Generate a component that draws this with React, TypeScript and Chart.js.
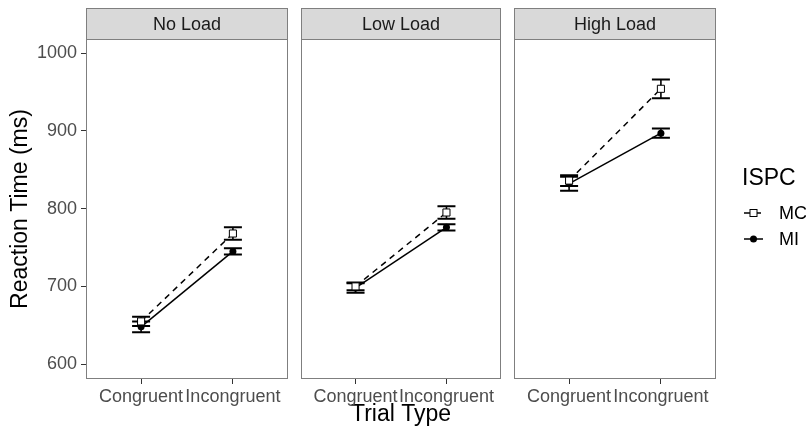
import React, { useEffect, useRef } from "react";
import { Chart, registerables } from "chart.js";

Chart.register(...registerables);

// ---- data ----
const trialTypes = ["Congruent", "Incongruent"];
const loadLevels = ["No Load", "Low Load", "High Load"];
const yTickValues = [600, 700, 800, 900, 1000];
const seriesNames = ["MC", "MI"];

// mean reaction time per load level: [Congruent, Incongruent]
const mcNoLoad = [655, 768];
const mcLowLoad = [700, 795];
const mcHighLoad = [836, 954];
const miNoLoad = [648, 745];
const miLowLoad = [698, 776];
const miHighLoad = [832, 897];

// standard errors, same layout
const mcErrNoLoad = [6, 8];
const mcErrLowLoad = [5, 8];
const mcErrHighLoad = [7, 12];
const miErrNoLoad = [7, 4];
const miErrLowLoad = [6, 4];
const miErrHighLoad = [9, 6];

const mcMeans = [mcNoLoad, mcLowLoad, mcHighLoad];
const miMeans = [miNoLoad, miLowLoad, miHighLoad];
const mcErrs = [mcErrNoLoad, mcErrLowLoad, mcErrHighLoad];
const miErrs = [miErrNoLoad, miErrLowLoad, miErrHighLoad];

// ---- layout ----
const W = 806;
const H = 429;
const FONT = "'Liberation Sans', Arial, Helvetica, sans-serif";
const panelLeft = [86, 299, 512];
const panelRight = [290, 503, 716];
const panelTop = 39;
const panelBottom = 379;
const stripHeight = 31;
const Y_MIN = 581;
const Y_MAX = 1018;

const errorBarPlugin = {
  id: "errorBars",
  beforeDatasetsDraw(chart: any) {
    const { ctx } = chart;
    const x = chart.scales.x;
    const y = chart.scales.y;
    ctx.save();
    ctx.strokeStyle = "#000000";
    chart.data.datasets.forEach((ds: any) => {
      ds.data.forEach((p: any, i: number) => {
        const e = ds.errors[i];
        const px = x.getPixelForValue(p.x);
        const yt = y.getPixelForValue(p.y + e);
        const yb = y.getPixelForValue(p.y - e);
        ctx.lineWidth = 1.6;
        ctx.beginPath();
        ctx.moveTo(px, yt);
        ctx.lineTo(px, yb);
        ctx.stroke();
        ctx.lineWidth = 2;
        ctx.beginPath();
        ctx.moveTo(px - 9, yt);
        ctx.lineTo(px + 9, yt);
        ctx.moveTo(px - 9, yb);
        ctx.lineTo(px + 9, yb);
        ctx.stroke();
      });
    });
    ctx.restore();
  },
};

const panelPlugin = {
  id: "panelFrame",
  afterDraw(chart: any, _args: any, opts: any) {
    const { ctx, chartArea } = chart;
    const l = Math.round(chartArea.left) + 0.5;
    const r = Math.round(chartArea.right) - 0.5;
    const t = Math.round(chartArea.top) + 0.5;
    const b = Math.round(chartArea.bottom) - 0.5;
    ctx.save();
    // strip
    ctx.fillStyle = "#d9d9d9";
    ctx.fillRect(l, t - stripHeight, r - l, stripHeight);
    ctx.strokeStyle = "#7f7f7f";
    ctx.lineWidth = 1;
    ctx.strokeRect(l, t - stripHeight, r - l, stripHeight);
    ctx.fillStyle = "#1a1a1a";
    ctx.font = `18px ${FONT}`;
    ctx.textAlign = "center";
    ctx.textBaseline = "middle";
    ctx.fillText(opts.label, (l + r) / 2, t - stripHeight / 2 + 1);
    // panel border
    ctx.strokeRect(l, t, r - l, b - t);
    ctx.restore();
  },
};

const legendPlugin = {
  id: "ispcLegend",
  afterDraw(chart: any, _args: any, opts: any) {
    if (!opts.show) return;
    const { ctx, chartArea } = chart;
    const x0 = chartArea.right + 26;
    ctx.save();
    ctx.fillStyle = "#000000";
    ctx.textBaseline = "middle";
    ctx.textAlign = "left";
    ctx.font = `23px ${FONT}`;
    ctx.fillText("ISPC", x0, 179);
    ctx.font = `18px ${FONT}`;
    const rows = [213, 239];
    seriesNames.forEach((name, i) => {
      const yy = rows[i];
      ctx.strokeStyle = "#000000";
      ctx.lineWidth = 1.5;
      ctx.setLineDash(i === 0 ? [6, 5] : []);
      ctx.beginPath();
      ctx.moveTo(x0 + 2, yy);
      ctx.lineTo(x0 + 21, yy);
      ctx.stroke();
      ctx.setLineDash([]);
      const cx = x0 + 11.5;
      if (i === 0) {
        ctx.fillStyle = "#ffffff";
        ctx.fillRect(cx - 3.5, yy - 3.5, 7, 7);
        ctx.lineWidth = 1;
        ctx.strokeRect(cx - 3.5, yy - 3.5, 7, 7);
      } else {
        ctx.fillStyle = "#000000";
        ctx.beginPath();
        ctx.arc(cx, yy, 3.5, 0, Math.PI * 2);
        ctx.fill();
      }
      ctx.fillStyle = "#000000";
      ctx.fillText(name, x0 + 37, yy + 1);
    });
    ctx.restore();
  },
};

function makeConfig(i: number): any {
  const first = i === 0;
  return {
    type: "line",
    data: {
      datasets: [
        {
          label: seriesNames[0],
          data: mcMeans[i].map((v, k) => ({ x: k, y: v })),
          errors: mcErrs[i],
          borderColor: "#000000",
          borderWidth: 1.5,
          borderDash: [6, 5],
          pointStyle: "rect",
          pointRadius: 5,
          pointBackgroundColor: "#ffffff",
          pointBorderColor: "#000000",
          pointBorderWidth: 1,
          fill: false,
          tension: 0,
        },
        {
          label: seriesNames[1],
          data: miMeans[i].map((v, k) => ({ x: k, y: v })),
          errors: miErrs[i],
          borderColor: "#000000",
          borderWidth: 1.5,
          pointStyle: "circle",
          pointRadius: 3.5,
          pointBackgroundColor: "#000000",
          pointBorderColor: "#000000",
          pointBorderWidth: 0,
          fill: false,
          tension: 0,
        },
      ],
    },
    options: {
      animation: false,
      responsive: false,
      devicePixelRatio: 1,
      layout: {
        padding: {
          top: panelTop,
          bottom: 0,
          left: first ? 0 : 4,
          right: i === 2 ? W - panelRight[2] : 4,
        },
      },
      plugins: {
        legend: { display: false },
        tooltip: { enabled: false },
        panelFrame: { label: loadLevels[i] },
        ispcLegend: { show: i === 2 },
      },
      scales: {
        x: {
          type: "linear",
          min: -0.6,
          max: 1.6,
          afterBuildTicks: (s: any) => {
            s.ticks = trialTypes.map((_, k) => ({ value: k }));
          },
          afterFit: (s: any) => {
            s.height = H - panelBottom;
          },
          ticks: {
            autoSkip: false,
            maxRotation: 0,
            minRotation: 0,
            padding: 2,
            color: "#4d4d4d",
            font: { family: FONT, size: 18 },
            callback: (_v: any, k: number) => trialTypes[k],
          },
          grid: {
            drawOnChartArea: false,
            drawTicks: true,
            tickLength: 5,
            color: "#333333",
          },
          border: { display: false },
          title: {
            display: i === 1,
            text: "Trial Type",
            color: "#000000",
            font: { family: FONT, size: 23, lineHeight: 1.2 },
            padding: { top: 0, bottom: 1 },
          },
        },
        y: {
          type: "linear",
          display: first,
          min: Y_MIN,
          max: Y_MAX,
          afterBuildTicks: (s: any) => {
            s.ticks = yTickValues.map((v) => ({ value: v }));
          },
          afterFit: (s: any) => {
            if (first) s.width = panelLeft[0];
          },
          ticks: {
            padding: 4,
            color: "#4d4d4d",
            font: { family: FONT, size: 18 },
            callback: (v: any) => String(v),
          },
          grid: {
            drawOnChartArea: false,
            drawTicks: true,
            tickLength: 5,
            color: "#333333",
          },
          border: { display: false },
          title: {
            display: first,
            text: "Reaction Time (ms)",
            color: "#000000",
            font: { family: FONT, size: 23, lineHeight: 1.2 },
            padding: { top: 7, bottom: 0 },
          },
        },
      },
    },
    plugins: [errorBarPlugin, panelPlugin, legendPlugin],
  };
}

function Panel({ index }: { index: number }) {
  const ref = useRef<HTMLCanvasElement | null>(null);
  const left = index === 0 ? 0 : panelLeft[index] - 4;
  const right = index === 2 ? W : panelRight[index] + 4;
  const width = right - left;
  useEffect(() => {
    if (!ref.current) return;
    const chart = new Chart(ref.current, makeConfig(index));
    return () => chart.destroy();
  }, [index]);
  return (
    <canvas
      ref={ref}
      width={width}
      height={H}
      style={{ position: "absolute", left, top: 0, width, height: H }}
    />
  );
}

export default function App() {
  useEffect(() => {
    document.body.style.margin = "0";
  }, []);
  return (
    <div
      style={{
        position: "fixed",
        left: 0,
        top: 0,
        width: W,
        height: H,
        background: "#ffffff",
        overflow: "hidden",
      }}
    >
      {loadLevels.map((_, i) => (
        <Panel key={i} index={i} />
      ))}
    </div>
  );
}
